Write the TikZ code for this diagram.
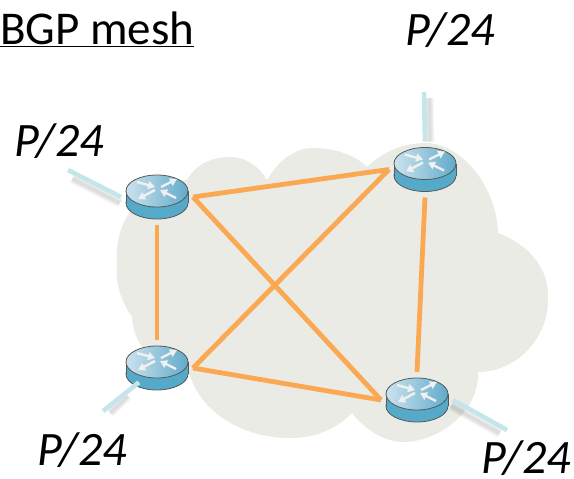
\documentclass[tikz,border=0pt]{standalone}
\usepackage{fontspec}
\setmainfont{Carlito}
\usetikzlibrary{arrows.meta}

\definecolor{cloudgray}{HTML}{EAEBE5}
\definecolor{linkorange}{HTML}{FBA852}
\definecolor{stubblue}{HTML}{C4E6EA}
\definecolor{routerblue}{HTML}{55A9C9}
\definecolor{routerlight}{HTML}{CBE2EE}
\definecolor{routerdark}{HTML}{62ABCA}

\tikzset{
    routernode/.style={minimum width=72pt, minimum height=56pt, inner sep=0pt, outer sep=0pt},
    link/.style={linkorange, line width=4.8pt},
    stub/.style={stubblue, line width=4.6pt},
    stubshadow/.style={black, opacity=0.035, shorten <=6pt},
    prefixlabel/.style={font=\fontsize{48}{48}\selectfont\itshape, inner sep=0pt},
    routericon/.pic={
        \fill[routerblue, draw=black!65, line width=0.8pt] (0,6) circle [x radius=31pt, y radius=16pt];
        \fill[routerblue] (-31,-6) rectangle (31,6);
        \draw[black!65, line width=0.8pt] (-31,-6) -- (-31,6) (31,-6) -- (31,6);
        \shade[left color=routerlight, right color=routerdark, draw=black!65, line width=0.8pt] (0,-6) circle [x radius=31pt, y radius=16pt];
        \foreach \xa/\ya/\xb/\yb in {-20/-15/-2/-10, 4/-10/20/-18, -2/-7/-19/2, 19/1/3/-7} {
            \draw[-{Triangle[length=7pt,width=8pt]}, white!94!black, line width=2.4pt] (\xa,\ya) -- (\xb,\yb);
        }
    }
}

\begin{document}
\begin{tikzpicture}[x=1pt, y=-1pt]
    \useasboundingbox (0,0) rectangle (574,479);

    \fill[cloudgray] (187,180) .. controls (197,162) and (215,157) .. (230,157)
    .. controls (245,157) and (258,165) .. (267,180) .. controls (280,158) and (297,148) .. (313,148)
    .. controls (335,148) and (355,155) .. (367,167) .. controls (385,150) and (405,143) .. (427,143)
    .. controls (465,145) and (497,190) .. (498,233) .. controls (530,245) and (550,270) .. (548,300)
    .. controls (548,340) and (515,372) .. (478,372) .. controls (480,410) and (440,442) .. (403,442)
    .. controls (385,442) and (365,430) .. (352,413) .. controls (335,430) and (315,438) .. (290,438)
    .. controls (240,438) and (200,410) .. (190,375) .. controls (165,372) and (135,355) .. (132,317)
    .. controls (120,300) and (115,280) .. (117,263) .. controls (115,235) and (125,215) .. (140,200)
    .. controls (150,190) and (170,180) .. (187,180) -- cycle;

    \node[routernode] (r1) at (157,197) {};
    \node[routernode] (r2) at (425,169.5) {};
    \node[routernode] (r3) at (157,368) {};
    \node[routernode] (r4) at (417,400) {};

    \coordinate (p1) at (68,170);
    \coordinate (p2) at (424,92);
    \coordinate (p3) at (103,411);
    \coordinate (p4) at (507,430);

    \foreach \a/\b/\dx/\dy in {p1/r1.west/-1/6, p2/r2.north/5/0, p3/r3/3/6, p4/r4.east/-2/6} {
        \foreach \w in {3,5,7,9} {
            \draw[stubshadow, line width=\w pt] ([shift={(\dx,\dy)}]\a) -- ([shift={(\dx,\dy)}]\b);
        }
    }
    \draw[stub] (p1) -- (r1.west);
    \draw[stub] (p2) -- (r2.north);
    \draw[stub] (p4) -- (r4.east);

    \draw[link] (r1.east) -- (r2.west);
    \draw[link] (r1.east) -- (r4.west);
    \draw[link] (r3.east) -- (r2.west);
    \draw[link] (r3.east) -- (r4.west);
    \draw[link] (r1.south) -- (r3.north);
    \draw[link] (r2.south) -- (r4.north);

    \pic at (r1) {routericon};
    \pic at (r2) {routericon};
    \pic at (r3) {routericon};
    \pic at (r4) {routericon};
    \draw[stub, shorten >=23pt] (p3) -- (r3.center);

    \node[prefixlabel] (l2) at (450,30) {P/24};
    \node[prefixlabel] (l1) at (59,141) {P/24};
    \node[prefixlabel] (l3) at (82,450) {P/24};
    \node[prefixlabel] (l4) at (526,458) {P/24};
    \node[font=\fontsize{47}{47}\selectfont, inner sep=0pt, anchor=west] (title) at (0,29) {\underline{BGP mesh}};
\end{tikzpicture}
\end{document}
